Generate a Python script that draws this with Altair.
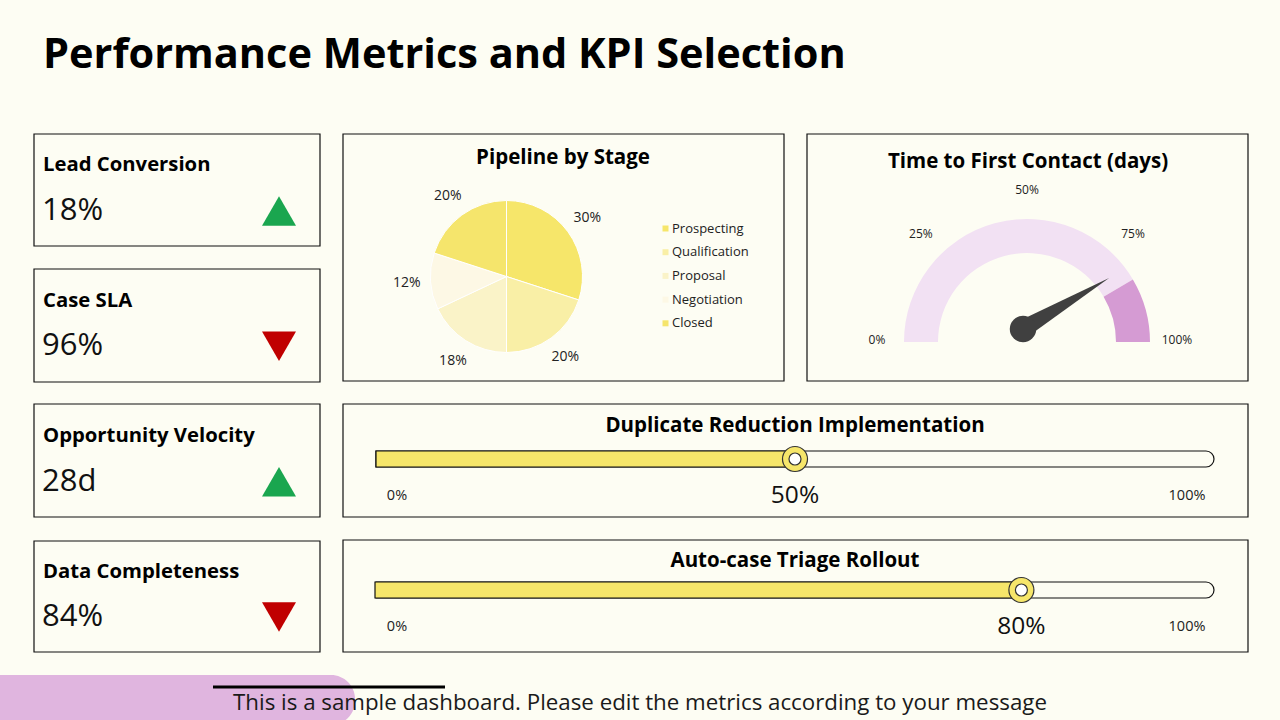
import math
import altair as alt
import pandas as pd

# ---------------- data ----------------
title_text = "Performance Metrics and KPI Selection"
footer_text = "This is a sample dashboard.  Please edit the metrics according to your message"

kpi_names = ["Lead Conversion", "Case SLA", "Opportunity Velocity", "Data Completeness"]
kpi_values = ["18%", "96%", "28d", "84%"]
kpi_trends = ["up", "down", "up", "down"]

pie_title = "Pipeline by Stage"
stages = ["Prospecting", "Qualification", "Proposal", "Negotiation", "Closed"]
stage_shares = [30, 20, 18, 12, 20]
stage_colors = ["#F6E66A", "#F9EFA6", "#FAF3C8", "#FDF8E5", "#F5E56C"]

gauge_title = "Time to First Contact (days)"
gauge_value = 83
gauge_min = 0
gauge_max = 100
gauge_ticks = [0, 25, 50, 75, 100]

progress_titles = ["Duplicate Reduction Implementation", "Auto-case Triage Rollout"]
progress_values = [50, 80]
progress_tick_labels = ["0%", "100%"]

# ---------------- style ----------------
BG = "#FDFDF3"
FONT = "Open Sans"
YELLOW = "#F6E66A"
LINE = "#111111"
PANEL_TITLE = 20.5

one = alt.Data(values=[{"k": 0}])


def box(x0, y0, x1, y1):
    return alt.Chart(one).mark_rect(fill="transparent", stroke=LINE, strokeWidth=1.2).encode(
        x=alt.value(x0), x2=alt.value(x1), y=alt.value(y0), y2=alt.value(y1))


def label(text, x, y, size, weight="normal", align="left", color="#000000"):
    return alt.Chart(one).mark_text(text=text, font=FONT, fontSize=size, fontWeight=weight,
                                    align=align, baseline="alphabetic", color=color).encode(
        x=alt.value(x), y=alt.value(y))


layers = []

# footer decoration
layers.append(alt.Chart(one).mark_rect(color="#E0B5DF", cornerRadius=24).encode(
    x=alt.value(-40), x2=alt.value(355), y=alt.value(675), y2=alt.value(725)))
layers.append(alt.Chart(one).mark_rule(color="#000000", strokeWidth=3).encode(
    x=alt.value(213), x2=alt.value(445), y=alt.value(687)))
layers.append(label(footer_text, 640, 710, 22.3, align="center", color="#1a1a1a"))

# title
layers.append(label(title_text, 43, 68, 41.5, weight="bold"))

# boxes
for b in [(34, 134, 320, 246), (34, 269, 320, 382), (34, 404, 320, 517), (34, 541, 320, 652),
          (343, 134, 784, 381), (807, 134, 1248, 381), (343, 404, 1248, 517), (343, 540, 1248, 652)]:
    layers.append(box(*b))

# ---------------- KPI cards ----------------
kpi_df = pd.DataFrame({"name": kpi_names, "value": kpi_values, "trend": kpi_trends})


def kpi_y(r0, r1):
    return alt.Y("name:N", scale=alt.Scale(type="point", domain=kpi_names, range=[r0, r1], padding=0), axis=None)


layers.append(alt.Chart(kpi_df).mark_text(font=FONT, fontSize=20.3, fontWeight="bold", align="left",
                                          baseline="alphabetic", color="#000000").encode(
    x=alt.value(43), y=kpi_y(171, 578), text="name:N"))
layers.append(alt.Chart(kpi_df).mark_text(font=FONT, fontSize=31, align="left",
                                          baseline="alphabetic", color="#111111").encode(
    x=alt.value(42), y=kpi_y(220, 626), text="value:N"))
layers.append(alt.Chart(kpi_df).mark_point(filled=True, size=1156, opacity=1).encode(
    x=alt.value(279), y=kpi_y(211, 617),
    shape=alt.Shape("trend:N", scale=alt.Scale(domain=["up", "down"], range=["triangle-up", "triangle-down"]), legend=None),
    color=alt.Color("trend:N", scale=alt.Scale(domain=["up", "down"], range=["#1AA64F", "#C00000"]), legend=None)))

# ---------------- Pie ----------------
pie_df = pd.DataFrame({"stage": stages, "share": stage_shares, "idx": list(range(len(stages))),
                       "lab": [f"{s}%" for s in stage_shares]})
PCX, PCY = 506.5, 276.5
layers.append(label(pie_title, 563, 164, PANEL_TITLE, weight="bold", align="center"))
layers.append(alt.Chart(pie_df).mark_arc(radius=76, stroke="#FFFFFF", strokeWidth=1).encode(
    theta=alt.Theta("share:Q", stack=True),
    color=alt.Color("stage:N", scale=alt.Scale(domain=stages, range=stage_colors),
                    legend=alt.Legend(title=None, orient="none", legendX=659, legendY=222,
                                      symbolType="square", symbolSize=36, symbolStrokeWidth=0,
                                      labelFont=FONT, labelFontSize=13, labelColor="#222222",
                                      rowPadding=9.7, labelOffset=0, padding=0)),
    order=alt.Order("idx:Q"),
    x=alt.value(PCX), y=alt.value(PCY)))
layers.append(alt.Chart(pie_df).mark_text(radius=100, font=FONT, fontSize=14, color="#222222").encode(
    theta=alt.Theta("share:Q", stack=True), order=alt.Order("idx:Q"), text="lab:N",
    x=alt.value(PCX), y=alt.value(PCY)))

# ---------------- Gauge ----------------
GCX, GCY = 1027, 342
gauge_df = pd.DataFrame({"value": [gauge_value], "lo": [gauge_min], "hi": [gauge_max]})
gscale = alt.Scale(domain=[gauge_min, gauge_max], range=[-math.pi / 2, math.pi / 2])
layers.append(label(gauge_title, 1028, 168, PANEL_TITLE, weight="bold", align="center"))
layers.append(alt.Chart(gauge_df).mark_arc(color="#F2E1F3", radius=123, radius2=89).encode(
    theta=alt.Theta("lo:Q", scale=gscale), theta2="value:Q", x=alt.value(GCX), y=alt.value(GCY)))
layers.append(alt.Chart(gauge_df).mark_arc(color="#D59BD3", radius=123, radius2=89).encode(
    theta=alt.Theta("value:Q", scale=gscale), theta2="hi:Q", x=alt.value(GCX), y=alt.value(GCY)))
tick_df = pd.DataFrame({"t": gauge_ticks, "lab": [f"{t}%" for t in gauge_ticks]})
layers.append(alt.Chart(tick_df).mark_text(radius=150, font=FONT, fontSize=12, color="#222222").encode(
    theta=alt.Theta("t:Q", scale=gscale), text="lab:N", x=alt.value(GCX), y=alt.value(340)))
NEEDLE = "M0,-0.09 L1,0 L0,0.09 Z"
layers.append(alt.Chart(gauge_df).mark_point(shape=NEEDLE, filled=True, color="#404040", size=40000, opacity=1).encode(
    angle=alt.Angle("value:Q", scale=alt.Scale(domain=[gauge_min, gauge_max], range=[180, 360])),
    x=alt.value(1023), y=alt.value(329)))
layers.append(alt.Chart(gauge_df).mark_point(shape="circle", filled=True, color="#404040", size=700, opacity=1).encode(
    x=alt.value(1023), y=alt.value(329)))

# ---------------- Progress bars ----------------
prog_df = pd.DataFrame({"name": progress_titles, "value": progress_values, "lo": [0, 0],
                        "pct": [f"{v}%" for v in progress_values]})
bar_tops = [451, 582]
bar_ranges = [[376, 1214], [375, 1183]]
title_y = [432, 567]
for i, name in enumerate(progress_titles):
    top = bar_tops[i]
    sc = alt.Scale(domain=[0, 100], range=bar_ranges[i])
    base = alt.Chart(prog_df).transform_filter(alt.datum.name == name)
    layers.append(label(name, 795, title_y[i], PANEL_TITLE, weight="bold", align="center"))
    layers.append(alt.Chart(one).mark_rect(fill=BG, stroke=LINE, strokeWidth=1.2,
                                           cornerRadiusTopRight=8, cornerRadiusBottomRight=8).encode(
        x=alt.value(376), x2=alt.value(1214), y=alt.value(top), y2=alt.value(top + 16)))
    layers.append(base.mark_rect(fill=YELLOW, stroke=LINE, strokeWidth=1.2).encode(
        x=alt.X("lo:Q", scale=sc, axis=None), x2="value:Q", y=alt.value(top), y2=alt.value(top + 16)))
    layers.append(base.mark_point(shape="circle", fill=YELLOW, stroke="#333333", strokeWidth=1.2,
                                  size=625, opacity=1, fillOpacity=1).encode(
        x=alt.X("value:Q", scale=sc, axis=None), y=alt.value(top + 8)))
    layers.append(base.mark_point(shape="circle", fill="#FFFFFF", stroke="#333333", strokeWidth=1.2,
                                  size=144, opacity=1, fillOpacity=1).encode(
        x=alt.X("value:Q", scale=sc, axis=None), y=alt.value(top + 8)))
    layers.append(base.mark_text(font=FONT, fontSize=24.5, align="center", baseline="alphabetic",
                                 color="#111111").encode(
        x=alt.X("value:Q", scale=sc, axis=None), y=alt.value(top + 52), text="pct:N"))
    layers.append(label(progress_tick_labels[0], 397, top + 49, 14.5, align="center", color="#222222"))
    layers.append(label(progress_tick_labels[1], 1187, top + 49, 14.5, align="center", color="#222222"))

chart = alt.layer(*layers).resolve_scale(
    x="independent", y="independent", theta="independent", color="independent",
    shape="independent", angle="independent"
).properties(
    width=1280, height=720, padding=0, background=BG,
    autosize=alt.AutoSizeParams(type="none")
).configure_view(strokeWidth=0)

chart.save("out.html", embed_options={"renderer": "svg", "actions": False})
